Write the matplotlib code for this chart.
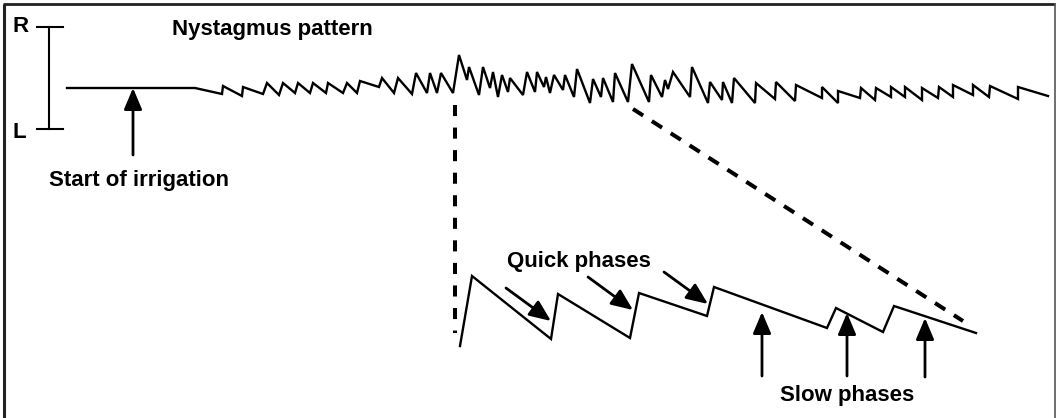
import matplotlib
matplotlib.use("Agg")
import matplotlib.pyplot as plt

plt.rcParams['font.family'] = ['Liberation Sans', 'DejaVu Sans']

# ---- data (pixel coords of the drawing, y down) ----
# overview nystagmus trace
trace_x = [67, 195, 222, 223, 242, 243, 263, 267, 279, 283, 295, 298, 310, 313, 326, 328,
           343, 347, 357, 360, 379, 382, 394, 398, 412, 416, 427, 430, 437, 441, 453, 459,
           467, 469, 479, 483, 490, 493, 498, 502, 508, 510, 523, 527, 535, 537, 544, 546,
           550, 554, 563, 565, 574, 577, 590, 593, 601, 603, 613, 615, 628, 632, 649, 651,
           662, 665, 668, 673, 690, 692, 708, 710, 722, 723, 732, 734, 755, 756, 775, 776,
           795, 796, 822, 822, 838, 838, 860, 861, 875, 876, 891, 891, 905, 905, 922, 922,
           938, 939, 953, 953, 973, 973, 989, 990, 1018, 1018, 1048]
trace_y = [88, 88, 94, 86, 96, 87, 94, 83, 95, 83, 93, 83, 93, 83, 93, 83,
           93, 83, 93, 81, 87, 78, 93, 78, 94, 73, 93, 73, 93, 73, 93, 55,
           80, 67, 95, 67, 88, 72, 97, 75, 92, 78, 95, 72, 92, 72, 87, 77,
           93, 75, 90, 75, 97, 69, 103, 79, 97, 78, 102, 73, 102, 64, 102, 75,
           97, 80, 89, 72, 97, 67, 103, 82, 100, 82, 103, 78, 103, 83, 99, 82,
           101, 85, 98, 87, 103, 91, 98, 88, 100, 88, 97, 87, 97, 87, 100, 88,
           98, 87, 97, 85, 95, 85, 97, 86, 99, 87, 96]

# enlarged detail trace
detail_x = [460, 472, 551, 558, 630, 639, 707, 714, 827, 836, 883, 894, 976]
detail_y = [346, 276, 339, 294, 338, 293, 316, 287, 328, 308, 332, 306, 333]

# quick phase arrows (tail -> tip)
quick_tails = [(506, 288), (588, 277), (664, 272)]
quick_tips = [(551, 321), (633, 310), (708, 304)]

# slow phase arrows
slow_x = [762, 847, 925]
slow_tail_y = [376, 376, 377]
slow_tip_y = [312, 313, 318]

# =========================
fig = plt.figure(figsize=(10.56, 4.18), dpi=100)
ax = fig.add_axes([0, 0, 1, 1])
ax.set_xlim(0, 1056)
ax.set_ylim(418, 0)
ax.axis('off')

# frame
ax.plot([4, 4], [4, 420], color='#222222', lw=2.2, solid_capstyle='butt', clip_on=False)
ax.plot([3, 1055], [4, 4], color='#222222', lw=2.0, solid_capstyle='butt')
ax.plot([1055, 1055], [3, 420], color='#555555', lw=1.2, solid_capstyle='butt', clip_on=False)

# R / L scale bar
ax.plot([49, 49], [27, 129], color='k', lw=1.5)
ax.plot([37, 63], [27, 27], color='k', lw=1.5)
ax.plot([37, 63], [129, 129], color='k', lw=1.5)
ax.text(13, 32, 'R', fontsize=16, fontweight='bold', ha='left', va='baseline')
ax.text(13, 138, 'L', fontsize=16, fontweight='bold', ha='left', va='baseline')

ax.text(172, 35, 'Nystagmus pattern', fontsize=16, fontweight='bold', ha='left', va='baseline')

# traces
ax.plot(trace_x, trace_y, color='k', lw=1.7, solid_joinstyle='miter')
ax.plot(detail_x, detail_y, color='k', lw=1.7, solid_joinstyle='miter')

# dashed zoom guides
ax.plot([455, 455], [105, 333], color='k', lw=2.9, dashes=(2.75, 2.85), dash_capstyle='butt')
ax.plot([633, 963], [109, 321], color='k', lw=2.9, dashes=(3.0, 2.57), dash_capstyle='butt')

arrow_kw = dict(arrowstyle='-|>,head_length=1.3,head_width=0.55', color='k', lw=2.0,
                shrinkA=0, shrinkB=0, mutation_scale=10)

# start of irrigation
ax.annotate('', xy=(133, 88), xytext=(133, 155), arrowprops=arrow_kw)
ax.text(49, 186, 'Start of irrigation', fontsize=16, fontweight='bold', ha='left', va='baseline')

# quick phases
for tail, tip in zip(quick_tails, quick_tips):
    ax.annotate('', xy=tip, xytext=tail, arrowprops=arrow_kw)
ax.text(507, 267, 'Quick phases', fontsize=16, fontweight='bold', ha='left', va='baseline')

# slow phases
for x, y0, y1 in zip(slow_x, slow_tail_y, slow_tip_y):
    ax.annotate('', xy=(x, y1), xytext=(x, y0), arrowprops=arrow_kw)
ax.text(780, 401, 'Slow phases', fontsize=16, fontweight='bold', ha='left', va='baseline')

fig.savefig('out.png', dpi=100)
